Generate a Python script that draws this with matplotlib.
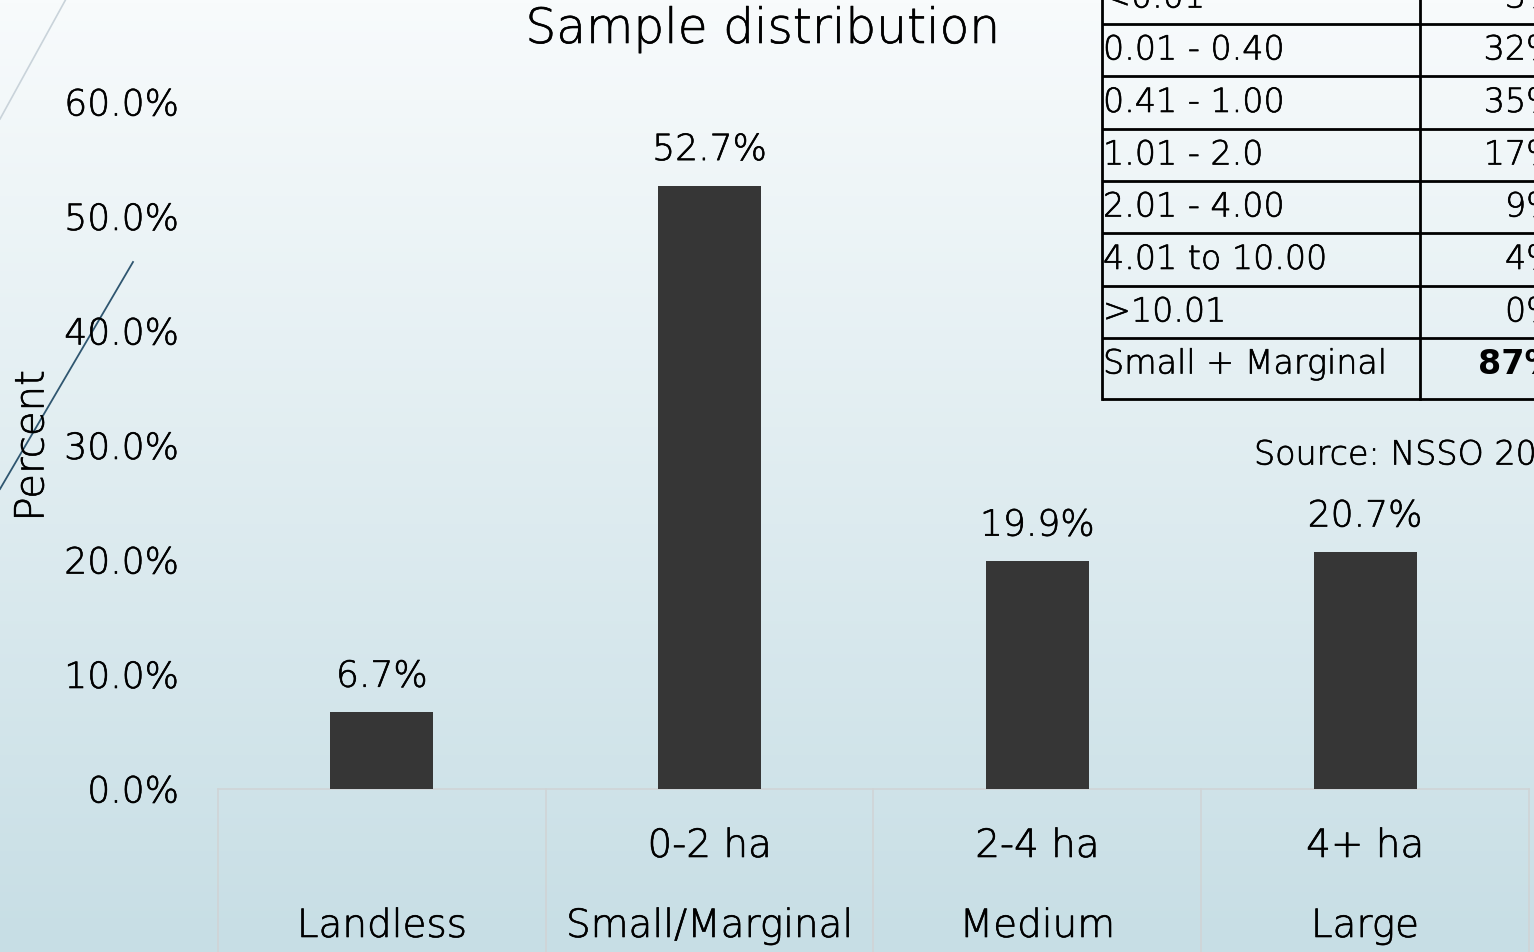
import numpy as np
import matplotlib
matplotlib.use("Agg")
import matplotlib.pyplot as plt
import matplotlib.patheffects as pe
from matplotlib.transforms import blended_transform_factory

# ---- data ----
categories = ["Landless", "Small/Marginal", "Medium", "Large"]
size_labels = ["", "0-2 ha", "2-4 ha", "4+ ha"]
values = [6.7, 52.7, 19.9, 20.7]
yticks = [0, 10, 20, 30, 40, 50, 60]
table_ranges = ["<0.01", "0.01 - 0.40", "0.41 - 1.00", "1.01 - 2.0",
                "2.01 - 4.00", "4.01 to 10.00", ">10.01", "Small + Marginal"]
table_pcts = ["3%", "32%", "35%", "17%", "9%", "4%", "0%", "87%"]

plt.rcParams['font.family'] = ['DejaVu Sans']
W, H = 1534, 953
fig = plt.figure(figsize=(W / 100, H / 100), dpi=100)
FW = "light"
PE = [pe.withStroke(linewidth=0.45, foreground="black")]
TK = dict(fontweight=FW, color="black", path_effects=PE)

# background axes in pixel coordinates
bg = fig.add_axes([0, 0, 1, 1], zorder=0)
bg.set_xlim(0, W)
bg.set_ylim(H, 0)
bg.axis("off")
top = np.array([248, 251, 252]) / 255
bot = np.array([199, 222, 229]) / 255
t = np.linspace(0, 1, 256)[:, None]
grad = (top[None, :] * (1 - t) + bot[None, :] * t)[:, None, :]
bg.imshow(grad, extent=[0, W, H, 0], aspect="auto", zorder=0)

# decorative lines
bg.plot([0, 66], [120, 0], color="#c9d3da", lw=1.2, zorder=1)
bg.plot([0, 133], [490, 263], color="#2f5670", lw=1.3, zorder=1)

# table
col_x = [1102, 1420, 1560]
row_y = [-27, 25, 77, 130, 182, 234, 287, 339, 400]
for y in row_y:
    bg.plot([col_x[0], col_x[2]], [y, y], color="black", lw=2, zorder=3, solid_capstyle="butt")
for x in col_x[:2]:
    bg.plot([x, x], [row_y[0], row_y[-1]], color="black", lw=2, zorder=3)
for i, (r, p) in enumerate(zip(table_ranges, table_pcts)):
    yc = (row_y[i] + row_y[i + 1]) / 2 if i < len(table_ranges) - 1 else row_y[i] + 26
    bg.text(col_x[0] + 1, yc, r, fontsize=24, va="center", ha="left", zorder=4, **TK)
    if i == len(table_ranges) - 1:
        bg.text(1558, yc, p, fontsize=24, va="center", ha="right", zorder=4, fontweight="bold")
    else:
        bg.text(1558, yc, p, fontsize=24, va="center", ha="right", zorder=4, **TK)

bg.text(1254, 456, "Source: NSSO 2013", fontsize=24, va="center", ha="left", zorder=4, **TK)
bg.text(763, 30, "Sample distribution", fontsize=35, va="center", ha="center", zorder=4, **TK)
bg.text(32, 447, "Percent", fontsize=29, va="center", ha="center", rotation=90, zorder=4, **TK)

# main axes
x0, x1, yb, yt = 218, 1529, 790, 103
ax = fig.add_axes([x0 / W, 1 - yb / H, (x1 - x0) / W, (yb - yt) / H], zorder=2)
ax.patch.set_alpha(0)
xs = np.arange(len(categories))
bars = ax.bar(xs, values, width=0.314, color="#363636", zorder=3)
ax.set_xlim(-0.5, len(categories) - 0.5)
ax.set_ylim(0, 60)
for s in ["top", "right", "left"]:
    ax.spines[s].set_visible(False)
ax.spines["bottom"].set_color("#d0d4d6")
ax.spines["bottom"].set_linewidth(1.2)
ax.set_yticks(yticks)
ax.set_yticklabels([f"{v:.1f}%" for v in yticks], fontsize=26, **TK)
ax.tick_params(axis="y", length=0, pad=28)
ax.set_xticks([])
for xi, v in zip(xs, values):
    ax.text(xi, v + 3.1, f"{v:.1f}%", ha="center", va="center", fontsize=26, **TK)

tr = blended_transform_factory(ax.transData, bg.transData)
for xb in np.arange(-0.5, len(categories), 1.0):
    ax.plot([xb, xb], [790, 960], color="#d0d4d6", lw=1.2, transform=tr, clip_on=False)
for xi, lab, cat in zip(xs, size_labels, categories):
    if lab:
        ax.text(xi, 847, lab, ha="center", va="center", fontsize=28, transform=tr, **TK)
    ax.text(xi, 927, cat, ha="center", va="center", fontsize=28, transform=tr, **TK)

fig.savefig("out.png", dpi=100)
